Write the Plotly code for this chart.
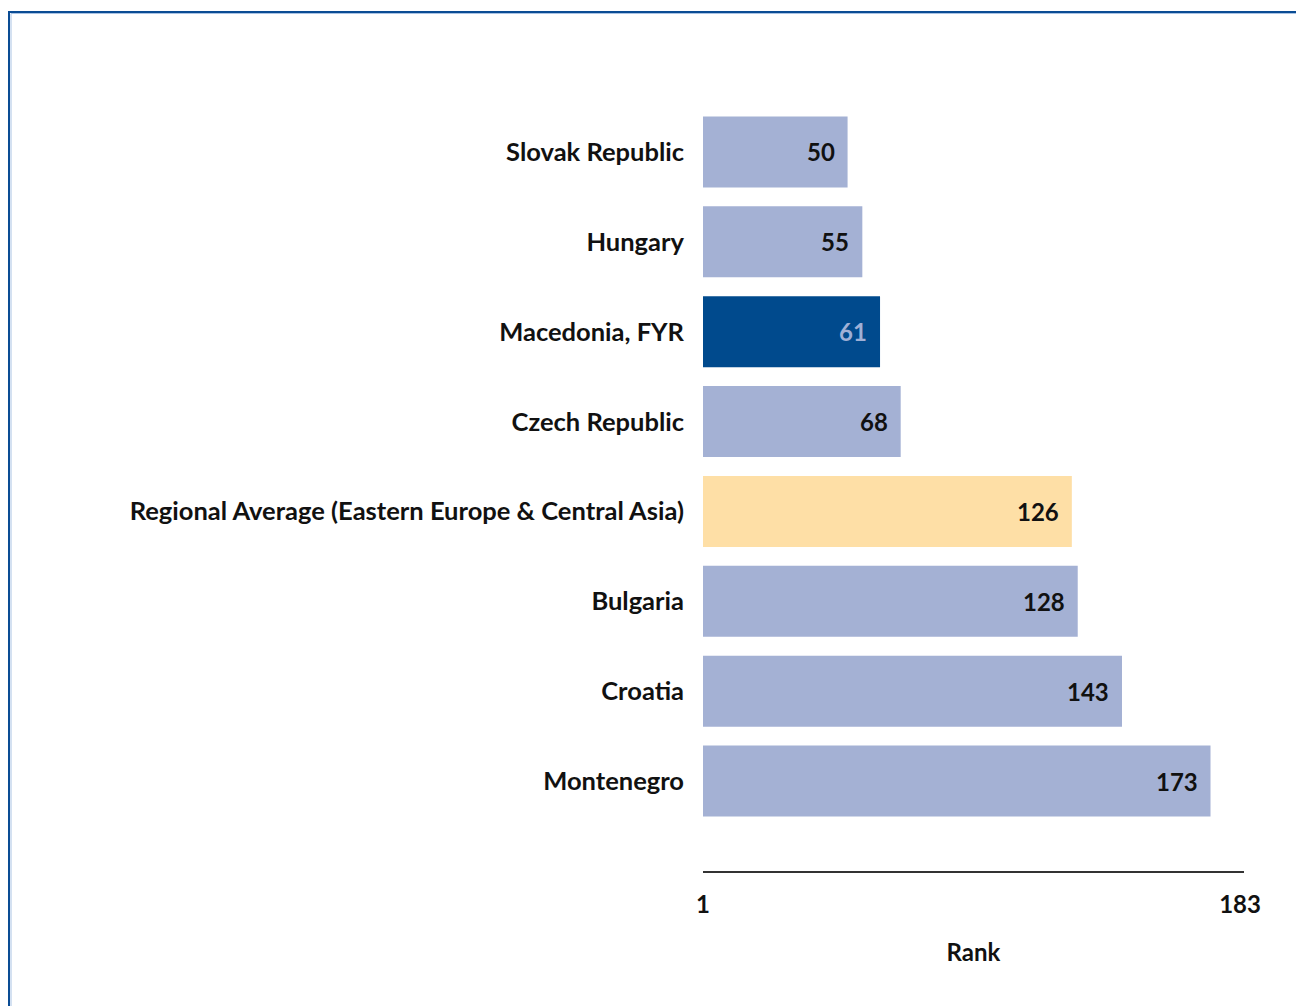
import plotly.graph_objects as go

categories = ["Montenegro", "Croatia", "Bulgaria",
              "Regional Average (Eastern Europe & Central Asia)",
              "Czech Republic", "Macedonia, FYR", "Hungary", "Slovak Republic"]
ranks = [173, 143, 128, 126, 68, 61, 55, 50]
bar_colors = ["#A4B1D4", "#A4B1D4", "#A4B1D4", "#FEDFA6",
              "#A4B1D4", "#004A8D", "#A4B1D4", "#A4B1D4"]
text_colors = ["#111111", "#111111", "#111111", "#111111",
               "#111111", "#9FB0D6", "#111111", "#111111"]
tick_vals = [1, 183]
tick_text = ["1", "183"]
axis_title = "Rank"

FONT = "Lato, 'Open Sans', sans-serif"

# page body offset of 8px is compensated
OFF = 8
W, H = 1304, 1006
L, R, T, B = 703 - OFF, 1244 - OFF, 107 - OFF, 871 - OFF

fig = go.Figure()
fig.add_trace(go.Bar(
    y=categories, x=[r - 1 for r in ranks], base=1, orientation="h",
    marker=dict(color=bar_colors, line=dict(width=0)),
    width=0.79, hoverinfo="skip",
))

for c, r, tc in zip(categories, ranks, text_colors):
    fig.add_annotation(x=r, y=c, text=f"<b>{r}</b>", showarrow=False,
                       xanchor="right", xshift=-11,
                       font=dict(family=FONT, size=24, color=tc))

def px2paper_x(px):
    return (px - OFF - L) / (R - L)

def px2paper_y(py):
    return (B - (py - OFF)) / (B - T)

fig.add_shape(type="rect", xref="paper", yref="paper",
              x0=px2paper_x(9), x1=px2paper_x(1330), y0=px2paper_y(1030), y1=px2paper_y(12),
              line=dict(color="#0A4C94", width=2), fillcolor="rgba(0,0,0,0)", layer="below")
fig.add_shape(type="rect", xref="paper", yref="paper",
              x0=px2paper_x(11), x1=px2paper_x(1330), y0=px2paper_y(1030), y1=px2paper_y(13.5),
              line=dict(color="#A9C3E4", width=1), fillcolor="rgba(0,0,0,0)", layer="below")

fig.update_layout(
    width=W, height=H,
    margin=dict(l=L, r=W - R, t=T, b=H - B, pad=0),
    paper_bgcolor="white", plot_bgcolor="white",
    showlegend=False,
    font=dict(family=FONT, color="#111111"),
    xaxis=dict(range=[1, 184.35], tickvals=tick_vals, ticktext=[f"<b>{t}</b>" for t in tick_text],
               showgrid=False, zeroline=False, showline=True, linecolor="#333333", linewidth=2,
               ticks="", ticklabelstandoff=11, tickfont=dict(size=24, family=FONT),
               title=dict(text=f"<b>{axis_title}</b>", font=dict(size=24, family=FONT), standoff=27),
               fixedrange=True),
    yaxis=dict(range=[-1, 7.5], showgrid=False, zeroline=False, showline=False,
               ticks="", ticklabelstandoff=18,
               tickfont=dict(size=25.5, family=FONT),
               ticktext=[f"<b>{c}</b>" for c in categories], tickvals=categories,
               fixedrange=True),
)

fig.write_html("out.html")
